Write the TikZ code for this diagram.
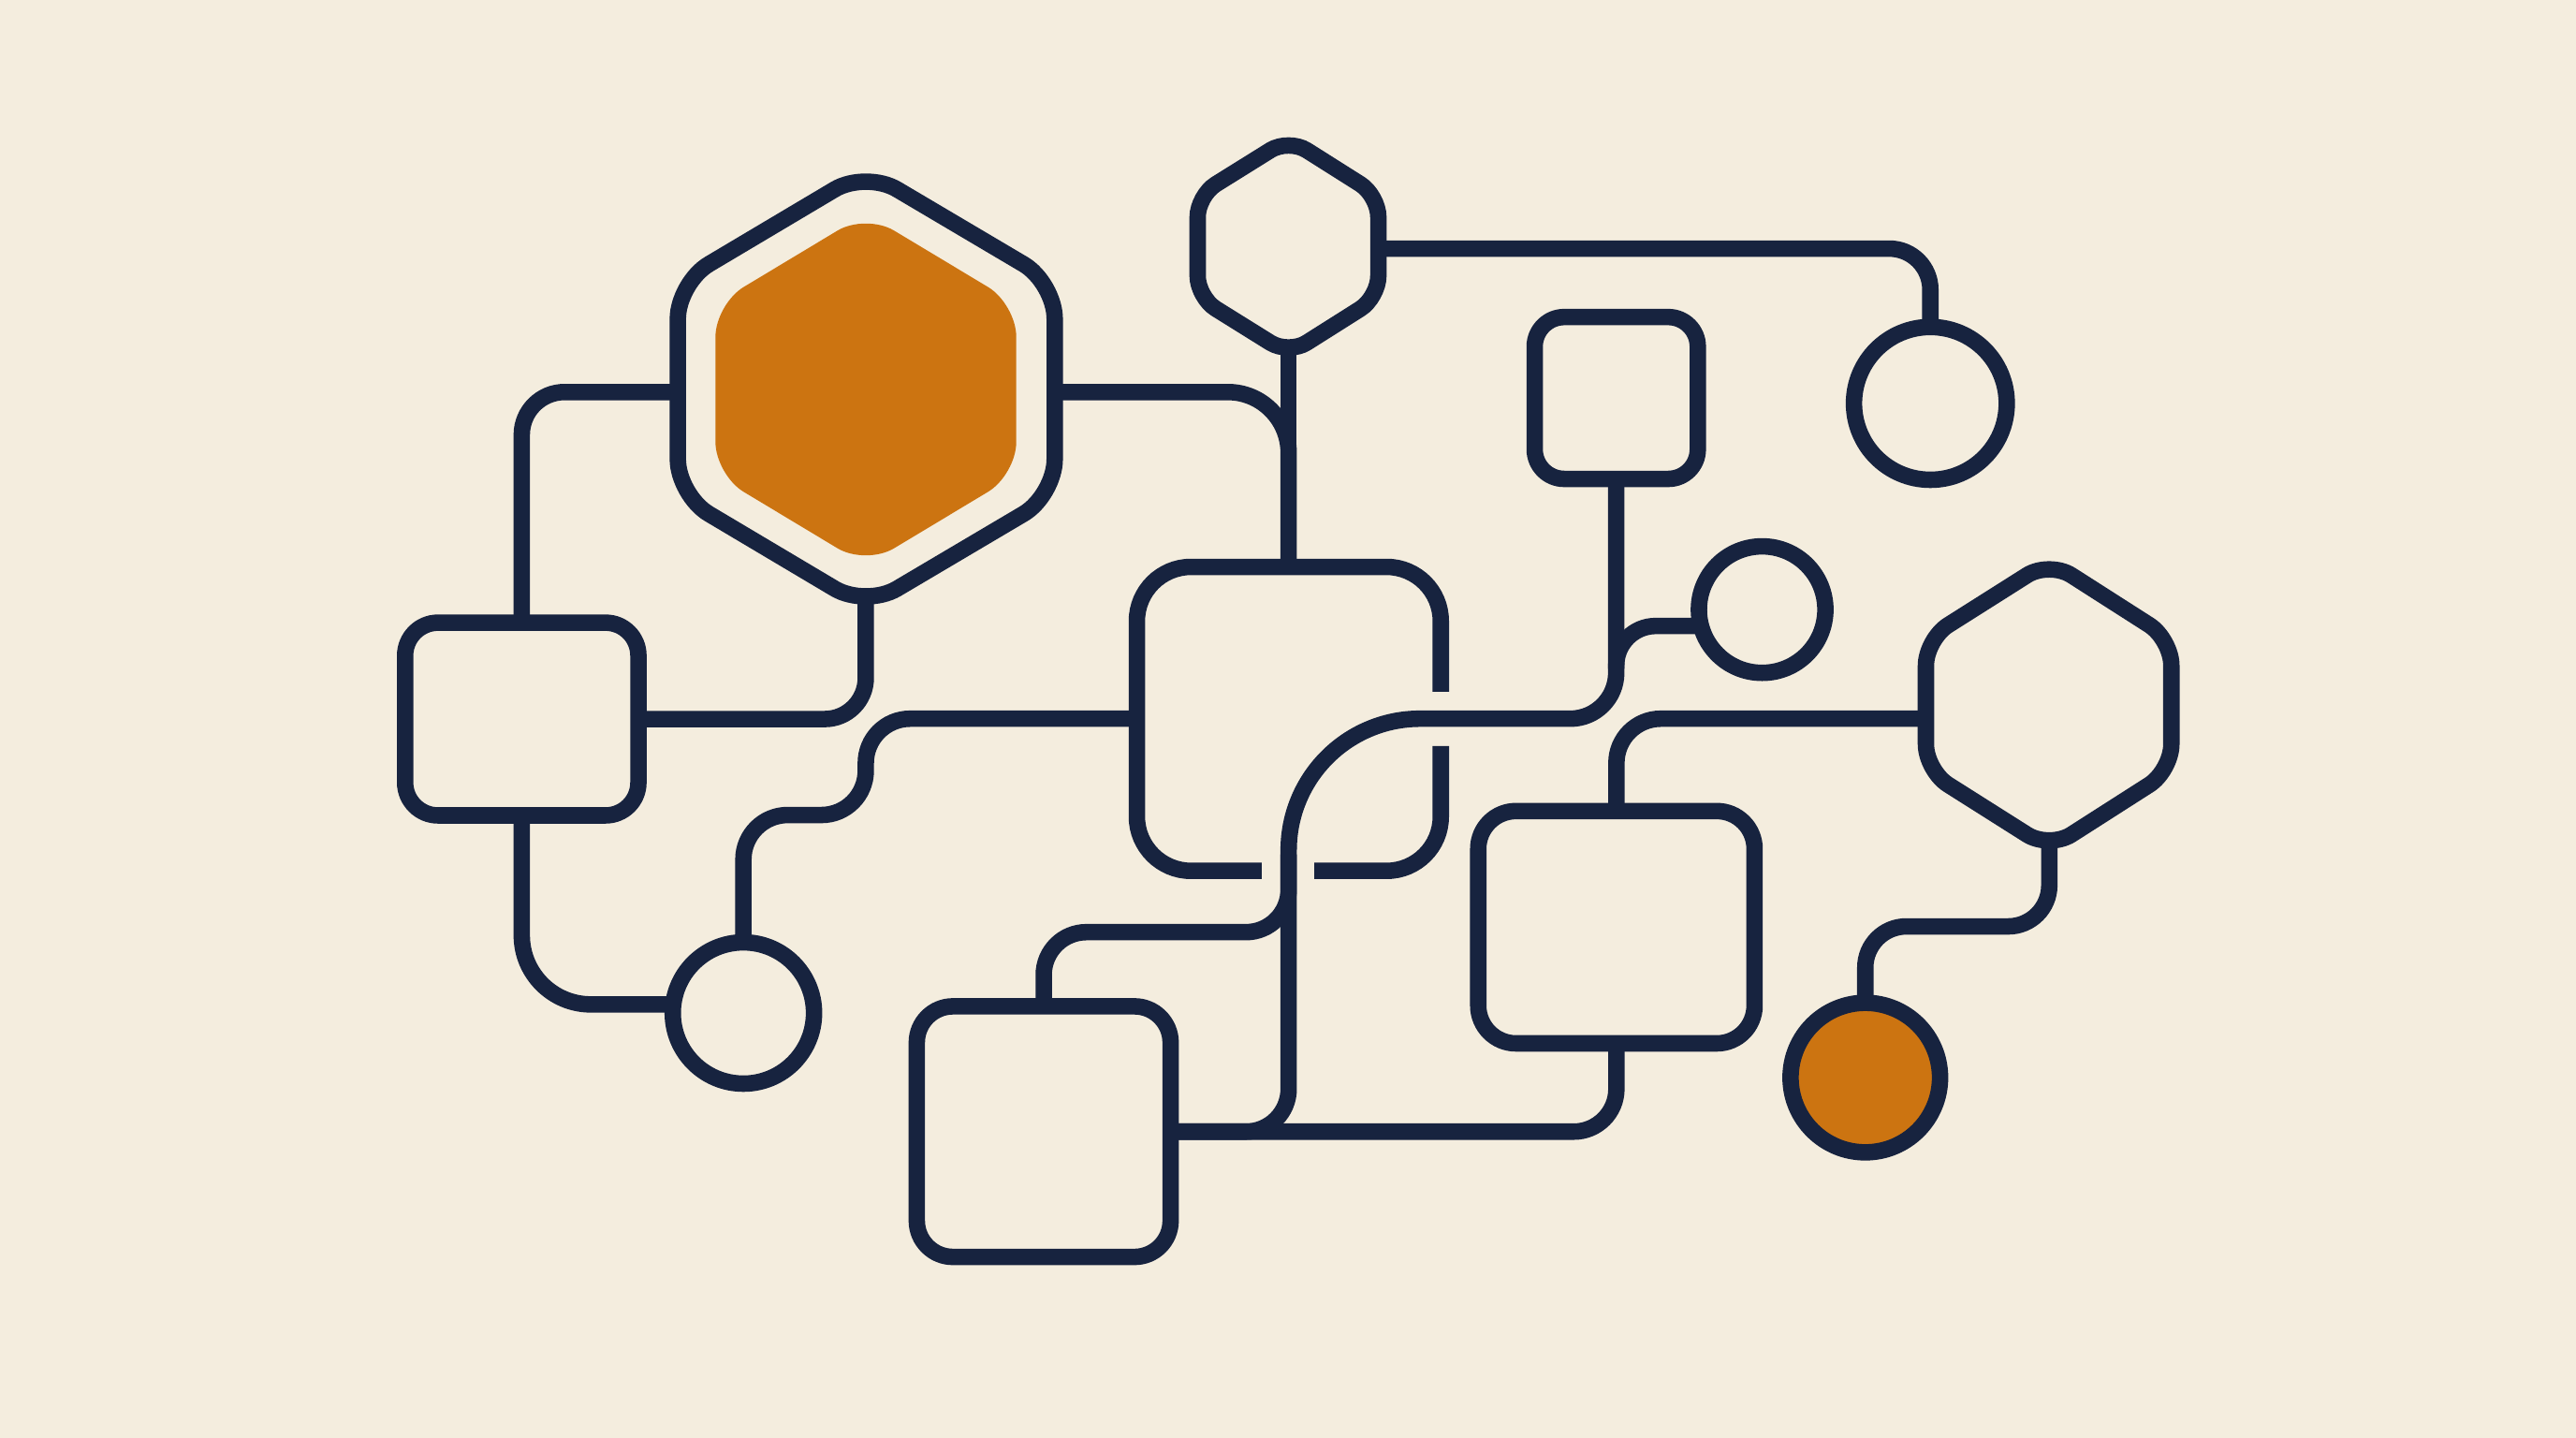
\documentclass[tikz,border=0pt]{standalone}
\newlength\gridu
\setlength\gridu{0.01755cm}
\definecolor{navy}{HTML}{17233F}
\definecolor{ochre}{HTML}{CC7411}
\definecolor{paper}{HTML}{F4EDDE}
\begin{document}
\begin{tikzpicture}[x=0.01755cm, y=-0.01755cm,
    outline/.style={draw=navy, line width=10\gridu},
    link/.style={draw=navy, line width=10\gridu},
    box/.style={draw=navy, line width=10\gridu, rectangle, inner sep=0pt, outer sep=0pt},
    ring/.style={draw=navy, line width=10\gridu, circle, inner sep=0pt, outer sep=0pt}]

    % Paper
    \useasboundingbox (0,0) rectangle (1568,875);
    \fill[paper] (0,0) rectangle (1568,875);

    % Big hexagon with its orange core
    \fill[ochre, rounded corners=20\gridu] (435.5,237) -- (435.5,185) -- (527,130) -- (618.6,185)
        -- (618.6,289) -- (527,344) -- (435.5,289) -- (435.5,237);
    \draw[outline, rounded corners=22\gridu] (412.6,237) -- (412.6,172) -- (527,104) -- (642,172)
        -- (642,301.5) -- (527,369.5) -- (412.6,301.5) -- (412.6,230);
    \coordinate (H1W) at (412.6,238.6);   % left side
    \coordinate (H1E) at (642,238.6);     % right side
    \coordinate (H1S) at (527,362);       % bottom corner

    % Small hexagon at the top
    \draw[outline, rounded corners=13\gridu] (729,150) -- (729,119) -- (784.4,84.5) -- (839,119)
        -- (839,181) -- (784.4,215.5) -- (729,181) -- (729,143);
    \coordinate (H2E) at (839,151.3);     % right side
    \coordinate (H2S) at (784.4,210);     % bottom corner

    % Hexagon on the right
    \draw[outline, rounded corners=16\gridu] (1172.3,430) -- (1172.3,389) -- (1247.4,341.5) -- (1321.7,389)
        -- (1321.7,469) -- (1247.4,516.5) -- (1172.3,469) -- (1172.3,423);
    \coordinate (H3W) at (1172.3,437.4);  % left side
    \coordinate (H3S) at (1247.4,510);    % bottom corner

    % Open box in the middle
    \draw[link, rounded corners=33\gridu] (877,421) -- (877,345) -- (692,345) -- (692,530) -- (768,530);
    \draw[link, rounded corners=33\gridu] (800,530) -- (877,530) -- (877,454);
    \coordinate (B2N) at (784.4,345);     % top side
    \coordinate (B2W) at (692,437.4);     % left side

    % Boxes
    \node[box, rounded corners=20\gridu, minimum width=142\gridu, minimum height=117.3\gridu] (B1) at (317.6,437.6) {};
    \node[box, rounded corners=18\gridu, minimum width=99.3\gridu, minimum height=98.5\gridu] (B3) at (983.8,242.2) {};
    \node[box, rounded corners=23\gridu, minimum width=168.2\gridu, minimum height=141.4\gridu] (B4) at (983.9,564.3) {};
    \node[box, rounded corners=22\gridu, minimum width=154.5\gridu, minimum height=152.5\gridu] (B5) at (635.3,688.7) {};

    % Circles
    \node[ring, minimum size=93\gridu] (C1) at (1175,245.5) {};
    \node[ring, minimum size=77\gridu] (C2) at (1072.6,371) {};
    \node[ring, fill=ochre, minimum size=91\gridu] (C3) at (1135.4,655.8) {};
    \node[ring, minimum size=86\gridu] (C4) at (452.5,616.5) {};

    % Bends of the long line
    \coordinate (E1) at (983.8,409.4);
    \coordinate (E2) at (864.4,437.4);
    \coordinate (E3) at (784.4,662.7);
    \coordinate (J0) at (784.4,567.3);
    \coordinate (J1) at (784.4,520);
    \coordinate (F1) at (527,496);
    \coordinate (K1) at (1190,563.8);
    \coordinate (L0) at (983.8,407);

    % Connectors
    \draw[link, rounded corners=26\gridu] (H1W) -| (B1.north);
    \draw[link, rounded corners=25\gridu] (H1S) |- (B1.east);
    \draw[link, rounded corners=37\gridu] (H1E) -| (B2N);
    \draw[link] (H2S) -- (B2N);
    \draw[link, rounded corners=25\gridu] (H2E) -| (C1.north);
    \draw[link] (B3.south) -- (E1) arc[start angle=0, end angle=-90, radius=28\gridu]
        -- (E2) arc[start angle=90, end angle=180, radius=80\gridu]
        -- (E3) arc[start angle=0, end angle=-90, radius=26\gridu] -- (B5.east);
    \draw[link, rounded corners=24\gridu] (L0) |- (C2.195);
    \draw[link, rounded corners=27\gridu] (B2W) -| (F1) -| (C4.north);
    \draw[link, rounded corners=42\gridu] (B1.south) |- (C4.173);
    \draw[link, rounded corners=27\gridu] (H3W) -| (B4.north);
    \draw[link, rounded corners=26\gridu] (B4.south) |- (B5.east);
    \draw[link, rounded corners=26\gridu] (B5.north) |- (J0) -- (J1);
    \draw[link, rounded corners=25\gridu] (H3S) |- (K1) -| (C3.north);

\end{tikzpicture}
\end{document}
